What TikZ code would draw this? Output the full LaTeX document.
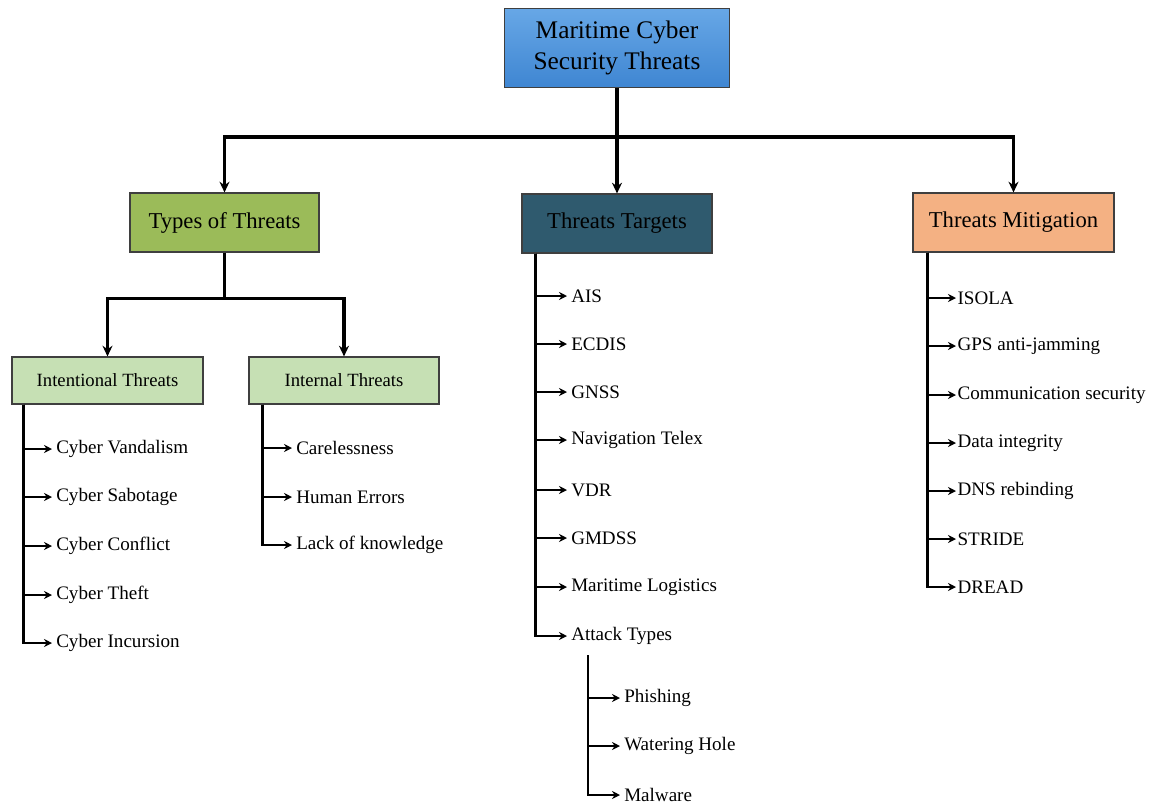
\documentclass[tikz,border=0pt]{standalone}
\usepackage{fontspec}
\setmainfont{Liberation Serif}
\usetikzlibrary{positioning,arrows.meta}

\definecolor{topblueA}{HTML}{67A7E6}
\definecolor{topblueB}{HTML}{3F86D2}
\definecolor{typesgreen}{HTML}{9BBB59}
\definecolor{targetsteal}{HTML}{2F5A6E}
\definecolor{mitigorange}{HTML}{F4B183}
\definecolor{lightgreen}{HTML}{C6E0B4}
\definecolor{boxedge}{HTML}{3F3F3F}

\tikzset{
  box/.style={draw=boxedge, line width=0.9pt, align=center, inner sep=2pt},
  trunk/.style={line width=2.8pt, -{Stealth[length=8pt,width=7.5pt]}},
  branch/.style={line width=1.9pt, -{Stealth[length=6pt,width=6pt]}},
  item/.style={anchor=west, inner xsep=3pt, inner ysep=0pt, font=\fontsize{14.3}{16}\selectfont}
}

\begin{document}
\begin{tikzpicture}[x=0.75pt, y=-0.75pt]
      \useasboundingbox (0,0) rectangle (1153,804);

      % root and first level
      \node (mcst) [box, top color=topblueA, bottom color=topblueB, minimum width=168.75pt, minimum height=59pt,
        font=\fontsize{19}{23}\selectfont] at (617,48) {Maritime Cyber\\Security Threats};
      \node (tot) [box, fill=typesgreen, minimum width=141.75pt, minimum height=44.25pt,
        font=\fontsize{17}{20}\selectfont] at (224.5,222.5) {Types of Threats};
      \node (tt) [box, fill=targetsteal, minimum width=142.5pt, minimum height=44.25pt,
        font=\fontsize{17}{20}\selectfont] at (617,223.5) {Threats Targets};
      \node (tm) [box, fill=mitigorange, minimum width=150.75pt, minimum height=44.25pt,
        font=\fontsize{17}{20}\selectfont] at (1013.5,222.5) {Threats Mitigation};

      % second level
      \node (it) [box, fill=lightgreen, minimum width=143.25pt, minimum height=35.25pt,
        font=\fontsize{14}{16}\selectfont] at (107.5,380.5) {Intentional Threats};
      \node (int) [box, fill=lightgreen, minimum width=142.5pt, minimum height=35.25pt,
        font=\fontsize{14}{16}\selectfont] at (344,380.5) {Internal Threats};

      \coordinate (bar) at (617,137);
      \draw[trunk] (mcst.south) -- (tt.north);
      \draw[trunk] (mcst.south |- bar) -| (tot.north);
      \draw[trunk] (mcst.south |- bar) -| (tm.north);
      \draw[trunk] (tot.south) -- ++(0,46) -| (it.north);
      \draw[trunk] (tot.south) -- ++(0,46) -| (int.north);

      % intentional threats
      \coordinate (it-s) at ([xshift=9pt]it.south west);
      \node (cv) [item] at (52,449) {Cyber Vandalism};
      \node (cs) [item] at (52,497) {Cyber Sabotage};
      \node (cc) [item] at (52,546) {Cyber Conflict};
      \node (cth) [item] at (52,595) {Cyber Theft};
      \node (ci) [item] at (52,643) {Cyber Incursion};
      \foreach \n in {cv,cs,cc,cth,ci}
        \draw[branch] (it-s) |- (\n.west);

      % internal threats
      \coordinate (int-s) at ([xshift=10.5pt]int.south west);
      \node (care) [item] at (292,448) {Carelessness};
      \node (he) [item] at (292,497) {Human Errors};
      \node (lok) [item] at (292,545) {Lack of knowledge};
      \foreach \n in {care,he,lok}
        \draw[branch] (int-s) |- (\n.west);

      % threats targets
      \coordinate (tt-s) at ([xshift=10.5pt]tt.south west);
      \node (ais) [item] at (567,296) {AIS};
      \node (ecdis) [item] at (567,344) {ECDIS};
      \node (gnss) [item] at (567,392) {GNSS};
      \node (ntx) [item] at (567,440) {Navigation Telex};
      \node (vdr) [item] at (567,490) {VDR};
      \node (gmdss) [item] at (567,538) {GMDSS};
      \node (ml) [item] at (567,587) {Maritime Logistics};
      \node (at) [item] at (567,636) {Attack Types};
      \foreach \n in {ais,ecdis,gnss,ntx,vdr,gmdss,ml,at}
        \draw[branch] (tt-s) |- (\n.west);

      % attack types
      \coordinate (at-s) at (588,655);
      \node (phi) [item] at (620,698) {Phishing};
      \node (wh) [item] at (620,746) {Watering Hole};
      \node (mal) [item] at (620,795) {Malware};
      \foreach \n in {phi,wh,mal}
        \draw[branch] (at-s) |- (\n.west);

      % threats mitigation
      \coordinate (tm-s) at ([xshift=11.25pt]tm.south west);
      \node (isola) [item, inner xsep=1pt] at (956,298) {ISOLA};
      \node (gps) [item, inner xsep=1pt] at (956,346) {GPS anti-jamming};
      \node (coms) [item, inner xsep=1pt] at (956,395) {Communication security};
      \node (di) [item, inner xsep=1pt] at (956,443) {Data integrity};
      \node (dns) [item, inner xsep=1pt] at (956,491) {DNS rebinding};
      \node (stride) [item, inner xsep=1pt] at (956,539) {STRIDE};
      \node (dread) [item, inner xsep=1pt] at (956,587) {DREAD};
      \foreach \n in {isola,gps,coms,di,dns,stride,dread}
        \draw[branch] (tm-s) |- (\n.west);
\end{tikzpicture}
\end{document}
